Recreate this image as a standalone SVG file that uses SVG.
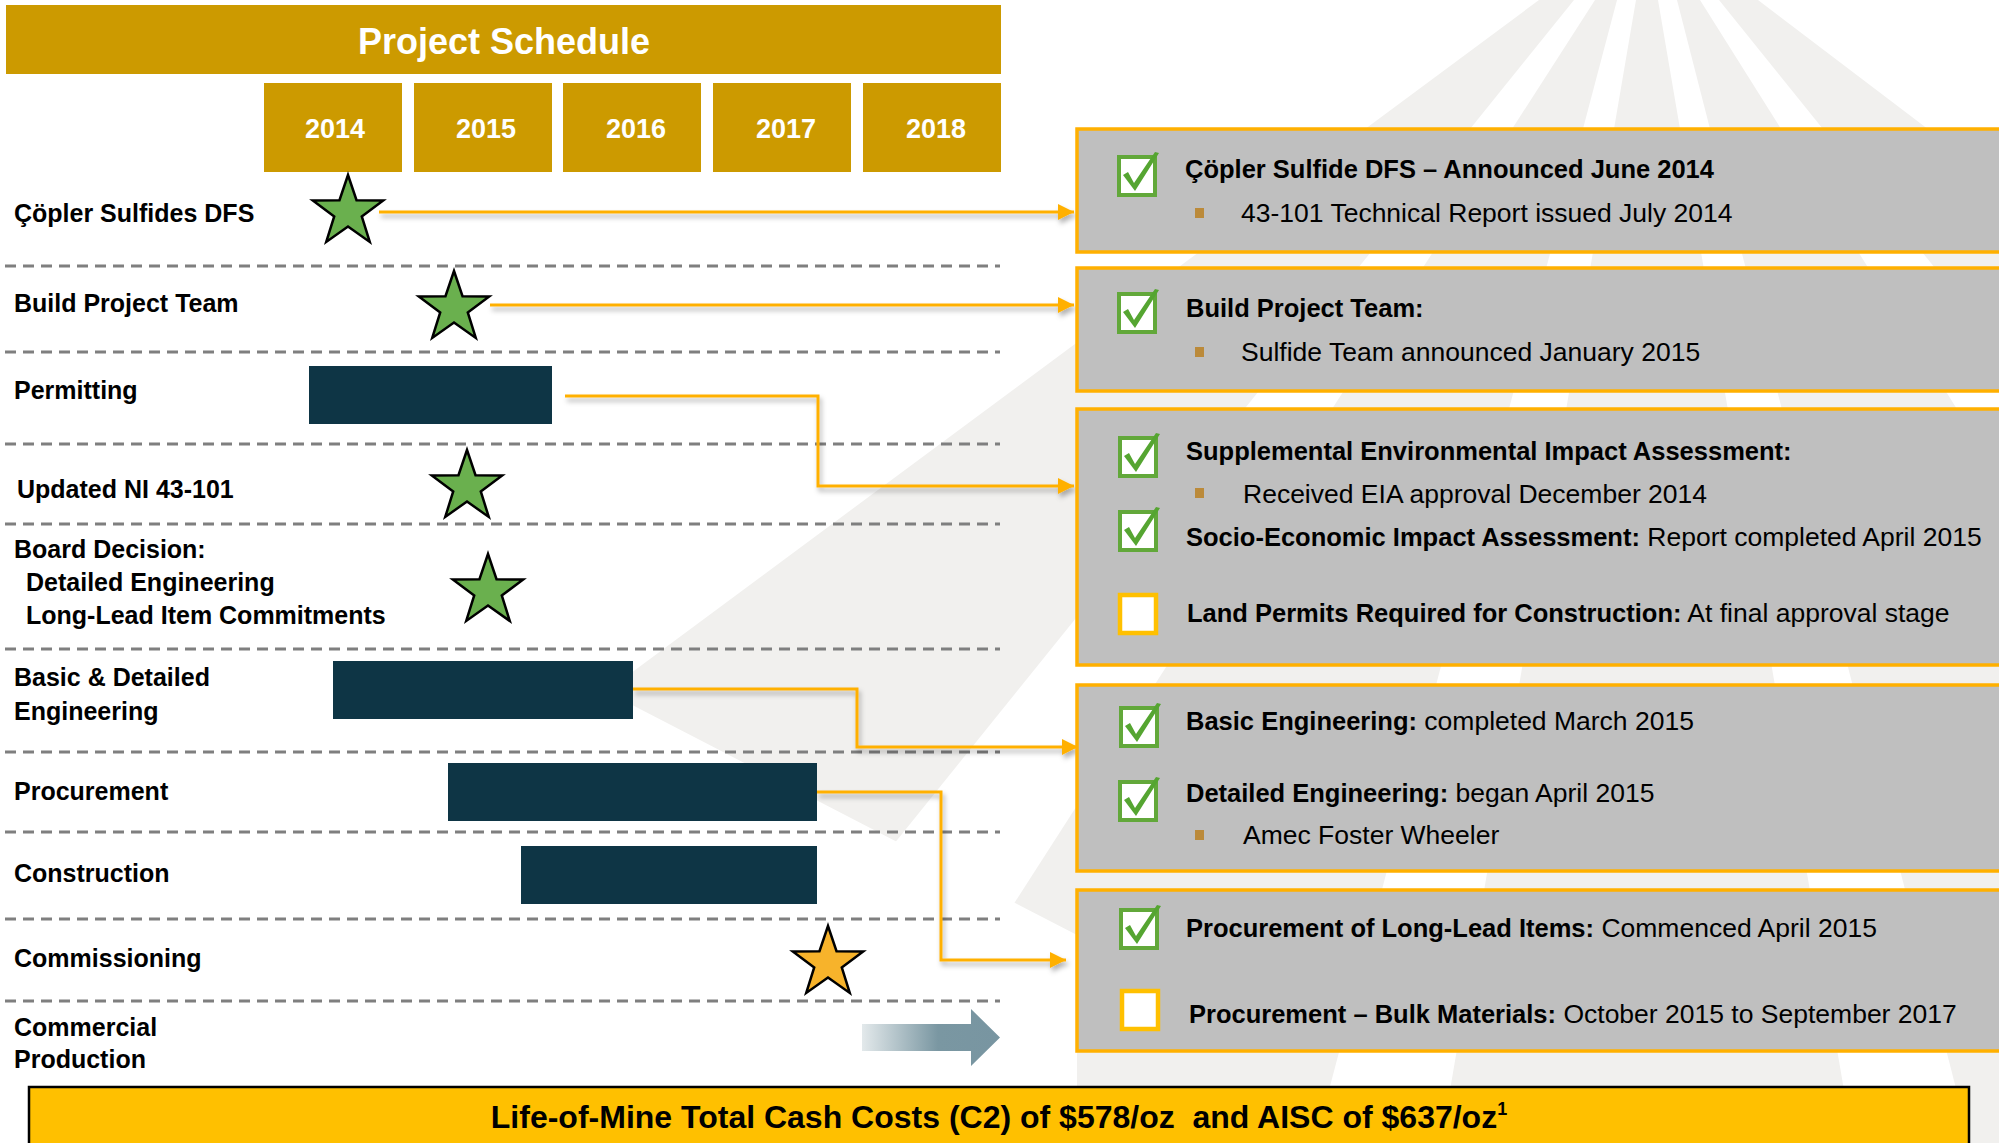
<svg xmlns="http://www.w3.org/2000/svg" width="1999" height="1143" viewBox="0 0 1999 1143">
<style>
.lbl{font-family:"Liberation Sans",Arial,sans-serif;font-weight:bold;font-size:25px;fill:#000}
.yr{font-family:"Liberation Sans",Arial,sans-serif;font-weight:bold;font-size:27px;fill:#fff;text-anchor:middle}
.pt{font-family:"Liberation Sans",Arial,sans-serif;font-size:26.5px;fill:#000}
.b{font-weight:bold;font-size:25.5px}
.gold{fill:#CC9A00}
.bar{fill:#0E3545}
.dash{stroke:#7F7F7F;stroke-width:3;stroke-dasharray:11 7;fill:none}
.panel{fill:#BFBFBF;stroke:#FFB000;stroke-width:3.5}
.bul{fill:#BB8A3A}
.conn{fill:none;stroke:#FFB000;stroke-width:3;marker-end:url(#ah)}
.ray{fill:#F1F0EE}
</style>
<defs>
<marker id="ah" markerUnits="userSpaceOnUse" markerWidth="18" markerHeight="18" refX="16" refY="8" orient="auto">
<path d="M0,0 L16,8 L0,16 Z" fill="#FFB000"/>
</marker>
<path id="star" d="M0,-37 L8.52,-11.73 L35.19,-11.43 L13.79,4.48 L21.75,29.93 L0,14.5 L-21.75,29.93 L-13.79,4.48 L-35.19,-11.43 L-8.52,-11.73 Z" stroke="#000" stroke-width="2.5" stroke-linejoin="miter"/>
<g id="chk">
<rect x="2" y="2" width="36" height="38" fill="#fff" stroke="#62A83A" stroke-width="4"/>
<path d="M6,20 L11,17 L17,28 L38,-3 L42,-2 L18,36 Z" fill="#55A531"/>
</g>
<g id="empty">
<rect x="2" y="2" width="36" height="38" fill="#fff" stroke="#FFC000" stroke-width="4.5"/>
</g>
<linearGradient id="grad" x1="862" y1="0" x2="1000" y2="0" gradientUnits="userSpaceOnUse">
<stop offset="0" stop-color="#E3E9EB"/>
<stop offset="0.55" stop-color="#7A97A2"/>
<stop offset="1" stop-color="#7895A1"/>
</linearGradient>
<clipPath id="rayclip">
<polygon points="0,-100 2000,-100 2000,1200 1077,1200 1077,935 0,378"/>
</clipPath>
<filter id="sh" x="-5%" y="-20%" width="110%" height="140%">
<feDropShadow dx="2" dy="4" stdDeviation="2.5" flood-color="#000" flood-opacity="0.3"/>
</filter>
</defs>

<rect width="1999" height="1143" fill="#fff"/>

<g id="watermark" clip-path="url(#rayclip)">
<polygon class="ray" points="1539,0 1574,0 653,1143 -3,1143"/>
<polygon class="ray" points="1595,0 1617,0 1315,1143 860,1143"/>
<polygon class="ray" points="1636,0 1658,0 1853,1143 1441,1143"/>
<polygon class="ray" points="1677,0 1700,0 2418,1143 1970,1143"/>
<polygon class="ray" points="1719,0 1758,0 3264,1143 2640,1143"/>
</g>

<g id="header">
<rect class="gold" x="6" y="5" width="995" height="69"/>
<text x="504" y="54" font-family="Liberation Sans, Arial, sans-serif" font-weight="bold" font-size="36" fill="#fff" text-anchor="middle">Project Schedule</text>
</g>
<g id="years">
<rect class="gold" x="264" y="83" width="138" height="89"/><text class="yr" x="335" y="138">2014</text>
<rect class="gold" x="414" y="83" width="138" height="89"/><text class="yr" x="486" y="138">2015</text>
<rect class="gold" x="563" y="83" width="138" height="89"/><text class="yr" x="636" y="138">2016</text>
<rect class="gold" x="713" y="83" width="138" height="89"/><text class="yr" x="786" y="138">2017</text>
<rect class="gold" x="863" y="83" width="138" height="89"/><text class="yr" x="936" y="138">2018</text>
</g>

<g id="gridlines">
<line class="dash" x1="5" y1="266" x2="1000" y2="266"/>
<line class="dash" x1="5" y1="352" x2="1000" y2="352"/>
<line class="dash" x1="5" y1="444" x2="1000" y2="444"/>
<line class="dash" x1="5" y1="524" x2="1000" y2="524"/>
<line class="dash" x1="5" y1="649" x2="1000" y2="649"/>
<line class="dash" x1="5" y1="752" x2="1000" y2="752"/>
<line class="dash" x1="5" y1="832" x2="1000" y2="832"/>
<line class="dash" x1="5" y1="919" x2="1000" y2="919"/>
<line class="dash" x1="5" y1="1001" x2="1000" y2="1001"/>
</g>

<g id="labels">
<text class="lbl" x="14" y="222">Çöpler Sulfides DFS</text>
<text class="lbl" x="14" y="312">Build Project Team</text>
<text class="lbl" x="14" y="399">Permitting</text>
<text class="lbl" x="17" y="498">Updated NI 43-101</text>
<text class="lbl" x="14" y="558">Board Decision:</text>
<text class="lbl" x="26" y="591">Detailed Engineering</text>
<text class="lbl" x="26" y="624">Long-Lead Item Commitments</text>
<text class="lbl" x="14" y="686">Basic &amp; Detailed</text>
<text class="lbl" x="14" y="720">Engineering</text>
<text class="lbl" x="14" y="800">Procurement</text>
<text class="lbl" x="14" y="882">Construction</text>
<text class="lbl" x="14" y="967">Commissioning</text>
<text class="lbl" x="14" y="1036">Commercial</text>
<text class="lbl" x="14" y="1068">Production</text>
</g>

<g id="bars">
<rect class="bar" x="309" y="366" width="243" height="58"/>
<rect class="bar" x="333" y="661" width="300" height="58"/>
<rect class="bar" x="448" y="763" width="369" height="58"/>
<rect class="bar" x="521" y="846" width="296" height="58"/>
</g>

<g id="stars">
<use href="#star" x="348" y="212" fill="#6AB04E"/>
<use href="#star" x="454" y="308" fill="#6AB04E"/>
<use href="#star" x="467" y="487" fill="#6AB04E"/>
<use href="#star" x="488" y="591" fill="#6AB04E"/>
<use href="#star" x="828" y="963" fill="#F7B32B"/>
</g>

<g id="production-arrow">
<polygon points="862,1024 971,1024 971,1009 1000,1037.5 971,1066 971,1051 862,1051" fill="url(#grad)"/>
</g>

<g id="connectors" filter="url(#sh)">
<path class="conn" d="M379,212 H1074"/>
<path class="conn" d="M490,305 H1074"/>
<path class="conn" d="M565,396 H818 V486 H1074"/>
<path class="conn" d="M633,689 H857 V747 H1078"/>
<path class="conn" d="M817,792 H941 V960 H1066"/>
</g>

<g id="panel1">
<rect class="panel" x="1077" y="129" width="940" height="123"/>
<use href="#chk" x="1117" y="155"/>
<text class="pt" x="1185" y="178"><tspan class="b">Çöpler Sulfide DFS – Announced June 2014</tspan></text>
<rect class="bul" x="1195" y="208" width="9" height="10"/>
<text class="pt" x="1241" y="222">43-101 Technical Report issued July 2014</text>
</g>

<g id="panel2">
<rect class="panel" x="1077" y="268" width="940" height="123"/>
<use href="#chk" x="1117" y="292"/>
<text class="pt" x="1186" y="317"><tspan class="b">Build Project Team:</tspan></text>
<rect class="bul" x="1195" y="347" width="9" height="10"/>
<text class="pt" x="1241" y="361">Sulfide Team announced January 2015</text>
</g>

<g id="panel3">
<rect class="panel" x="1077" y="409" width="940" height="256"/>
<use href="#chk" x="1118" y="436"/>
<text class="pt" x="1186" y="460"><tspan class="b">Supplemental Environmental Impact Assessment:</tspan></text>
<rect class="bul" x="1195" y="488" width="9" height="10"/>
<text class="pt" x="1243" y="503">Received EIA approval December 2014</text>
<use href="#chk" x="1118" y="510"/>
<text class="pt" x="1186" y="546"><tspan class="b">Socio-Economic Impact Assessment:</tspan> Report completed April 2015</text>
<use href="#empty" x="1118" y="593"/>
<text class="pt" x="1187" y="622"><tspan class="b">Land Permits Required for Construction:</tspan> At final approval stage</text>
</g>

<g id="panel4">
<rect class="panel" x="1077" y="685" width="940" height="186"/>
<use href="#chk" x="1119" y="706"/>
<text class="pt" x="1186" y="730"><tspan class="b">Basic Engineering:</tspan> completed March 2015</text>
<use href="#chk" x="1118" y="780"/>
<text class="pt" x="1186" y="802"><tspan class="b">Detailed Engineering:</tspan> began April 2015</text>
<rect class="bul" x="1195" y="830" width="9" height="10"/>
<text class="pt" x="1243" y="844">Amec Foster Wheeler</text>
</g>

<g id="panel5">
<rect class="panel" x="1077" y="890" width="940" height="161"/>
<use href="#chk" x="1119" y="908"/>
<text class="pt" x="1186" y="937"><tspan class="b">Procurement of Long-Lead Items:</tspan> Commenced April 2015</text>
<use href="#empty" x="1120" y="989"/>
<text class="pt" x="1189" y="1023"><tspan class="b">Procurement – Bulk Materials:</tspan> October 2015 to September 2017</text>
</g>

<g id="footer">
<rect x="29" y="1087" width="1940" height="80" fill="#FFC000" stroke="#000" stroke-width="2.5"/>
<text x="999" y="1128" font-family="Liberation Sans, Arial, sans-serif" font-weight="bold" font-size="32" fill="#000" text-anchor="middle" style="white-space:pre">Life-of-Mine Total Cash Costs (C2) of $578/oz  and AISC of $637/oz<tspan font-size="18" dy="-13">1</tspan></text>
</g>
</svg>
